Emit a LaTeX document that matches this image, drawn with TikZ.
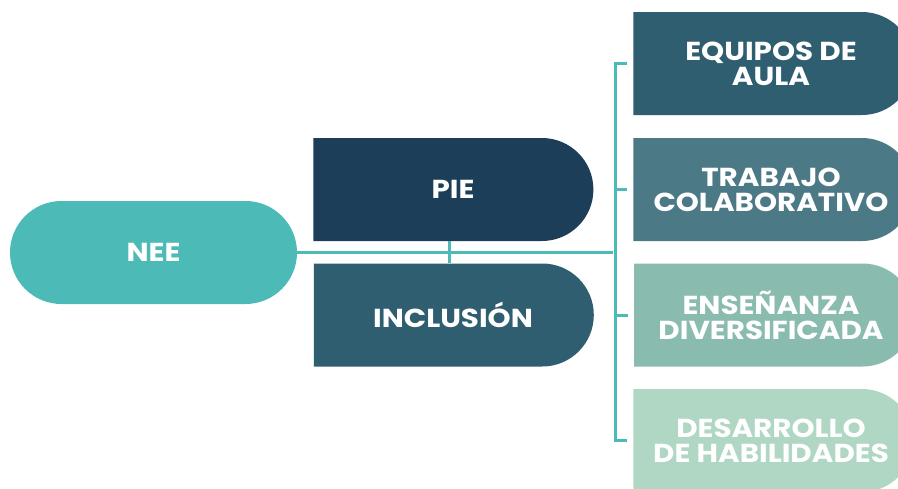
\documentclass[tikz,border=0pt]{standalone}
\usepackage{fontspec}
\setmainfont{Poppins}[FakeStretch=1.13]
\usetikzlibrary{shapes.misc}
\definecolor{cteal}{HTML}{4CBAB6}
\definecolor{cpie}{HTML}{1C3E58}
\definecolor{cinc}{HTML}{2E5E6F}
\definecolor{ctra}{HTML}{4B7A86}
\definecolor{cens}{HTML}{89BBAF}
\definecolor{cdes}{HTML}{B0D6C4}
\begin{document}
\begin{tikzpicture}[x=1pt,y=-1pt,
  halfpill/.style={rounded rectangle, rounded rectangle left arc=none,
    minimum width=280pt, minimum height=103pt, inner sep=0pt,
    text=white, align=center, font=\bfseries\fontsize{26}{25}\selectfont},
  fullpill/.style={rounded rectangle, minimum width=287pt, minimum height=103pt,
    inner sep=0pt, text=white, align=center, font=\bfseries\fontsize{26}{25}\selectfont},
  conn/.style={draw=cteal, line width=3pt}]
\useasboundingbox (0,0) rectangle (898,488);
\fill[white] (0,0) rectangle (898,488);
\clip (0,0) rectangle (898,488);
\coordinate (br) at (613,0);
\node[fullpill, fill=cteal] (NEE) at (153.5,252.5) {NEE};
\node[halfpill, fill=cpie] (PIE) at (453,189.5) {PIE};
\node[halfpill, fill=cinc] (INC) at (453,315) {INCLUSIÓN};
\node[halfpill, fill=cinc] (EQ) at (771,63.5) {EQUIPOS DE\\AULA};
\node[halfpill, fill=ctra] (TRA) at (771,189.5) {TRABAJO\\COLABORATIVO};
\node[halfpill, fill=cens] (ENS) at (771,315) {ENSEÑANZA\\DIVERSIFICADA};
\node[halfpill, fill=cdes] (DES) at (771,440.5) {DESARROLLO\\DE HABILIDADES};
\draw[conn] (NEE.east) -- (NEE.east -| br);
\draw[conn] ([xshift=-4pt]PIE.south) -- ([xshift=-4pt]INC.north);
\draw[conn] ([xshift=-6pt]EQ.west) -- ++(-12,0) |- ([xshift=-6pt]DES.west);
\draw[conn] ([xshift=-6pt]TRA.west) -- ++(-12,0);
\draw[conn] ([xshift=-6pt]ENS.west) -- ++(-12,0);
\end{tikzpicture}
\end{document}
